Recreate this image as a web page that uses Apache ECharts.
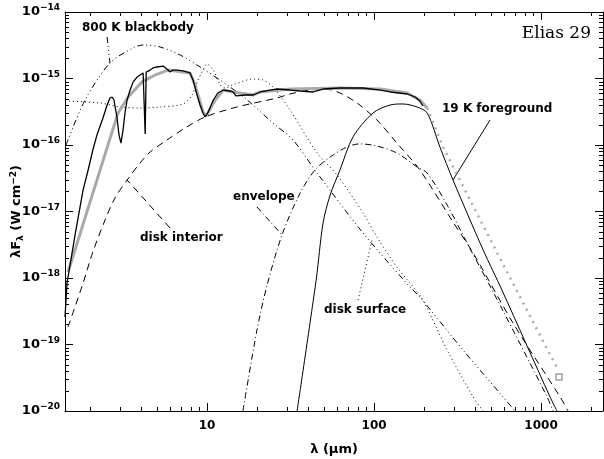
<!DOCTYPE html>
<html>
<head>
<meta charset="utf-8">
<script src="https://cdn.jsdelivr.net/npm/echarts@6/dist/echarts.min.js"></script>
<style>
html, body { margin: 0; padding: 0; background: #fff; }
#main { width: 604px; height: 459px; }
</style>
</head>
<body>
<div id="main"></div>
<script>
// wavelength in micron, lambda*F_lambda in W cm^-2
var obsLam = [1.41, 1.45, 1.62, 1.81, 1.94, 2.07, 2.19, 2.38, 2.52, 2.62, 2.70, 2.77, 2.89, 2.97, 3.05, 3.14, 3.23, 3.32, 3.46, 3.61,
  3.81, 3.97, 4.14, 4.20, 4.26, 4.32, 4.56, 4.75, 5.02, 5.46, 5.61, 5.84, 6.00, 6.25, 6.61, 7.18, 7.91, 8.24, 8.71, 9.08,
  9.46, 9.73, 10.1, 10.9, 11.6, 12.5, 13.7, 14.3, 14.9, 15.3, 16.9, 18.9, 20.8, 23.8, 26.2, 31.4, 36.1, 43.1, 49.5, 62.5,
  85.9, 109, 125, 158, 176, 188, 196];
var obsFlux = [2.59e-19, 8.41e-19, 4.44e-18, 2.11e-17, 4.21e-17, 8.41e-17, 1.41e-16, 2.55e-16, 4.00e-16, 5.09e-16, 5.27e-16, 4.75e-16, 2.55e-16, 1.41e-16, 1.07e-16, 1.68e-16, 3.13e-16, 4.75e-16, 6.71e-16, 8.9e-16,
  1.05e-15, 1.13e-15, 1.21e-15, 1.25e-15, 1.46e-16, 1.25e-15, 1.34e-15, 1.44e-15, 1.49e-15, 1.54e-15, 1.49e-15, 1.34e-15, 1.25e-15, 1.34e-15, 1.34e-15, 1.30e-15, 1.21e-15, 9.5e-16, 5.65e-16, 4.00e-16,
  3.03e-16, 2.64e-16, 3.03e-16, 4.75e-16, 6.05e-16, 6.71e-16, 6.49e-16, 6.27e-16, 5.46e-16, 5.85e-16, 5.65e-16, 5.65e-16, 6.27e-16, 6.71e-16, 6.95e-16, 6.71e-16, 6.49e-16, 6.27e-16, 6.95e-16, 7.20e-16,
  7.20e-16, 6.71e-16, 6.27e-16, 5.85e-16, 5.27e-16, 4.59e-16, 3.86e-16];

var modelLam = [1.47, 2.55, 2.93, 3.37, 4.08, 4.89, 5.84, 7.91, 8.48, 9.46, 9.86, 11.2, 12.5, 14.3, 18.9, 20.8, 31.4, 62.5, 109, 158, 188, 208];
var modelFlux = [1.23e-18, 1.0e-16, 3.03e-16, 5.27e-16, 8.9e-16, 1.13e-15, 1.34e-15, 1.21e-15, 7.98e-16, 3.13e-16, 2.73e-16, 4.75e-16, 6.71e-16, 6.27e-16, 5.65e-16, 6.27e-16, 6.95e-16, 7.20e-16, 6.95e-16, 6.05e-16, 4.75e-16, 3.60e-16];
var modelExtLam = [208, 259, 546, 1247];
var modelExtFlux = [3.60e-16, 9.33e-17, 2.38e-18, 4.44e-20];
var mmLam = [1282];
var mmFlux = [3.25e-20];

var bbLam = [1.43, 1.86, 2.62, 3.61, 4.14, 5.23, 6.89, 9.08, 13.2, 17.4, 24.8, 32.7, 45.6, 85.9, 164, 188, 341, 592, 699];
var bbFlux = [1.0e-16, 4.75e-16, 1.71e-15, 2.88e-15, 3.19e-15, 2.98e-15, 2.26e-15, 1.49e-15, 7.98e-16, 4.75e-16, 2.14e-16, 1.19e-16, 3.79e-17, 4.75e-18, 7.33e-19, 5.18e-19, 8.26e-20, 1.63e-20, 1e-20];

var surfLam = [1.41, 2.29, 3.01, 3.97, 5.23, 7.18, 8.13, 8.83, 9.46, 10.0, 10.9, 12.0, 12.8, 14.7, 18.9, 21.6, 24.8, 31.4, 45.6, 60.0,
  85.9, 104, 137, 164, 196, 274, 392, 450];
var surfFlux = [4.59e-16, 4.28e-16, 3.73e-16, 3.60e-16, 3.73e-16, 4.14e-16, 5.65e-16, 9.5e-16, 1.34e-15, 1.65e-15, 1.34e-15, 7.98e-16, 7.20e-16, 8.27e-16, 9.83e-16, 9.5e-16, 7.45e-16, 3.36e-16, 7.59e-17, 3.54e-17,
  9.5e-18, 4.14e-18, 1.46e-18, 8.41e-19, 4.67e-19, 8.26e-20, 1.63e-20, 1e-20];

var diskLam = [1.47, 1.81, 2.07, 2.45, 2.81, 3.32, 3.97, 4.56, 5.75, 7.38, 9.73, 15.1, 26.2, 31.4, 41.4, 50.9, 62.5, 79.1, 104, 137,
  188, 297, 392, 679, 1300, 1452];
var diskFlux = [1.83e-19, 8.41e-19, 2.46e-18, 7.45e-18, 1.60e-17, 2.98e-17, 5.36e-17, 7.85e-17, 1.19e-16, 1.80e-16, 2.64e-16, 3.73e-16, 5.09e-16, 5.85e-16, 6.71e-16, 6.95e-16, 6.05e-16, 4.28e-16, 2.38e-16, 1.07e-16,
  4.21e-17, 6.95e-18, 2.38e-18, 2.11e-19, 1.63e-20, 1e-20];

var envLam = [16.4, 19.9, 22.9, 28.1, 36.1, 44.3, 54.6, 68.9, 82.4, 104, 137, 181, 208, 274, 366, 568, 1087, 1180];
var envFlux = [1e-20, 1.65e-19, 7.85e-19, 4.44e-18, 1.90e-17, 4.21e-17, 6.60e-17, 9.33e-17, 1.04e-16, 9.66e-17, 7.59e-17, 4.67e-17, 3.79e-17, 1.25e-17, 3.13e-18, 3.93e-19, 1.63e-20, 1e-20];

var fgLam = [34.6, 45.0, 49.5, 54.6, 62.5, 74.8, 98.6, 125, 149, 181, 208, 248, 297, 450, 583, 1132, 1247];
var fgFlux = [1e-20, 9.33e-19, 6.72e-18, 1.77e-17, 4.21e-17, 1.32e-16, 3.03e-16, 4.00e-16, 4.14e-16, 3.73e-16, 3.03e-16, 9.33e-17, 2.98e-17, 2.64e-18, 6.60e-19, 1.63e-20, 1e-20];

// leader lines from the labels to their curves
var leadBB = [[2.52, 4.21e-15], [2.62, 1.71e-15]];
var leadDisk = [[6.00, 5.65e-18], [3.32, 2.98e-17]];
var leadEnv = [[19.9, 1.17e-17], [28.1, 4.44e-18]];
var leadSurf = [[80.2, 4.67e-19], [97.3, 3.73e-18]];
var leadFg = [[495, 2.38e-16], [297, 2.98e-17]];

var xMin = 1.41, xMax = 2350, yMin = 1e-20, yMax = 1e-14;
var FONT = 'DejaVu Sans';
var LABEL_FONT = 'bold 12px "DejaVu Sans"';

function pairs(a, b) {
  return a.map(function (v, i) { return [v, b[i]]; });
}

// minor ticks 2..9 of every decade
var xMinor = [], yMinor = [];
[1, 10, 100, 1000].forEach(function (d) {
  for (var k = 2; k <= 9; k++) if (d * k > xMin && d * k < xMax) xMinor.push(d * k);
});
for (var e = -20; e < -14; e++) {
  for (var k = 2; k <= 9; k++) yMinor.push(k * Math.pow(10, e));
}

function minorTicks(values, isX) {
  return {
    type: 'custom',
    silent: true,
    z: 5,
    clip: false,
    data: values.map(function (v) { return isX ? [v, yMin] : [xMin, v]; }),
    renderItem: function (params, api) {
      var v = api.value(isX ? 0 : 1);
      var segs;
      if (isX) {
        var b = api.coord([v, yMin]), t = api.coord([v, yMax]);
        var x = Math.round(b[0]) + 0.5;
        segs = [[x, b[1], x, b[1] - 4], [x, t[1], x, t[1] + 4]];
      } else {
        var l = api.coord([xMin, v]), r = api.coord([xMax, v]);
        var y = Math.round(l[1]) + 0.5;
        segs = [[l[0], y, l[0] + 4, y], [r[0], y, r[0] - 4, y]];
      }
      return {
        type: 'group',
        children: segs.map(function (s) {
          return { type: 'line', shape: { x1: s[0], y1: s[1], x2: s[2], y2: s[3] }, style: { stroke: '#000', lineWidth: 1 } };
        })
      };
    }
  };
}

function curve(data, type, opts) {
  opts = opts || {};
  return {
    type: 'line',
    data: data,
    showSymbol: false,
    symbol: 'none',
    smooth: opts.smooth || 0,
    z: opts.z || 2,
    silent: true,
    lineStyle: { color: opts.color || '#000', width: opts.width || 1, type: type }
  };
}

var dotted = [1, 3];
var dashed = [7, 5];
var dashDot = [6, 3, 1, 3];
var dash3Dot = [6, 3, 1, 3, 1, 3, 1, 3];

var myChart = echarts.init(document.getElementById('main'), null, { renderer: 'canvas' });

var axisCommon = {
  type: 'log',
  logBase: 10,
  splitLine: { show: false },
  minorTick: { show: false },
  axisLine: { show: true, lineStyle: { color: '#000', width: 1 } },
  axisTick: { show: true, inside: true, length: 8, lineStyle: { color: '#000' } }
};

var option = {
  animation: false,
  backgroundColor: '#fff',
  grid: { left: 65, right: 1, top: 12, bottom: 48, containLabel: false, outerBoundsMode: 'none' },
  xAxis: [
    Object.assign({}, axisCommon, {
      min: xMin, max: xMax, position: 'bottom',
      name: 'λ (μm)', nameLocation: 'middle', nameGap: 32, nameMoveOverlap: false,
      nameTextStyle: { fontFamily: FONT, fontSize: 13, fontWeight: 'bold', color: '#000' },
      axisLabel: {
        showMinLabel: false, showMaxLabel: false, margin: 9,
        fontFamily: FONT, fontSize: 12, fontWeight: 'bold', color: '#000',
        formatter: function (v) { return String(Math.round(v)); }
      }
    }),
    Object.assign({}, axisCommon, {
      min: xMin, max: xMax, position: 'top', axisLabel: { show: false }
    })
  ],
  yAxis: [
    Object.assign({}, axisCommon, {
      min: yMin, max: yMax, position: 'left',
      name: 'λF{sub|λ} (W cm{sup|−2})', nameLocation: 'middle', nameGap: 40, nameMoveOverlap: false,
      nameTextStyle: {
        fontFamily: FONT, fontSize: 13, fontWeight: 'bold', color: '#000',
        rich: {
          sub: { fontFamily: FONT, fontSize: 9, fontWeight: 'bold', color: '#000', padding: [7, 0, 0, 0] },
          sup: { fontFamily: FONT, fontSize: 9, fontWeight: 'bold', color: '#000', padding: [0, 0, 7, 0] }
        }
      },
      axisLabel: {
        margin: 5, fontFamily: FONT, fontSize: 13, fontWeight: 'bold', color: '#000',
        formatter: function (v) {
          var e = Math.round(Math.log10(v));
          return '10{sup|−' + (-e) + '}';
        },
        rich: { sup: { fontFamily: FONT, fontSize: 9, fontWeight: 'bold', color: '#000', padding: [0, 0, 8, 0] } }
      }
    }),
    Object.assign({}, axisCommon, {
      min: yMin, max: yMax, position: 'right', axisLabel: { show: false }
    })
  ],
  series: [
    minorTicks(xMinor, true),
    minorTicks(yMinor, false),
    curve(pairs(bbLam, bbFlux), dash3Dot, { smooth: 0.3 }),
    curve(pairs(surfLam, surfFlux), dotted, { smooth: 0.3 }),
    curve(pairs(diskLam, diskFlux), dashed, { smooth: 0.3 }),
    curve(pairs(envLam, envFlux), dashDot, { smooth: 0.3 }),
    curve(pairs(fgLam, fgFlux), 'solid', { smooth: 0.3 }),
    curve(pairs(modelLam, modelFlux), 'solid', { color: '#aaaaaa', width: 3, z: 3 }),
    curve(pairs(modelExtLam, modelExtFlux), [2, 5], { color: '#aaaaaa', width: 2.5, z: 3 }),
    curve(pairs(obsLam, obsFlux), 'solid', { width: 1.3, z: 4 }),
    {
      type: 'scatter', data: pairs(mmLam, mmFlux), symbol: 'rect', symbolSize: 6, z: 4, silent: true,
      itemStyle: { color: '#ffffff', borderColor: '#888888', borderWidth: 1.5 }
    },
    curve(leadBB, dash3Dot),
    curve(leadDisk, dashed),
    curve(leadEnv, dashDot),
    curve(leadSurf, dotted),
    curve(leadFg, 'solid')
  ],
  graphic: [
    { type: 'text', x: 82, y: 28, style: { text: '800 K blackbody', font: LABEL_FONT, fill: '#000', textVerticalAlign: 'middle' } },
    { type: 'text', x: 140, y: 238, style: { text: 'disk interior', font: LABEL_FONT, fill: '#000', textVerticalAlign: 'middle' } },
    { type: 'text', x: 233, y: 197, style: { text: 'envelope', font: LABEL_FONT, fill: '#000', textVerticalAlign: 'middle' } },
    { type: 'text', x: 324, y: 310, style: { text: 'disk surface', font: LABEL_FONT, fill: '#000', textVerticalAlign: 'middle' } },
    { type: 'text', x: 442, y: 109, style: { text: '19 K foreground', font: LABEL_FONT, fill: '#000', textVerticalAlign: 'middle' } },
    { type: 'text', x: 591, y: 34, style: { text: 'Elias 29', font: '17px "DejaVu Serif"', fill: '#000', textAlign: 'right', textVerticalAlign: 'middle' } }
  ]
};

myChart.setOption(option);
</script>
</body>
</html>
